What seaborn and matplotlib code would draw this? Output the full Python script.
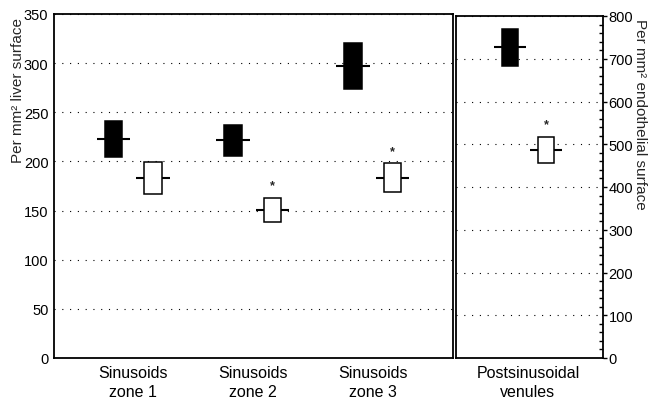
import pandas as pd
import seaborn as sns
import matplotlib.pyplot as plt
from matplotlib.ticker import MultipleLocator

# Sinusoid zones, per mm2 liver surface (left axis)
zones = ['Sinusoids\nzone 1', 'Sinusoids\nzone 2', 'Sinusoids\nzone 3']
zone_filled_low = [204, 206, 274]
zone_filled_mid = [223, 222, 297]
zone_filled_high = [241, 237, 321]
zone_open_low = [167, 138, 169]
zone_open_mid = [183, 151, 183]
zone_open_high = [199, 163, 198]
zone_star = [False, True, True]

# Postsinusoidal venules, per mm2 endothelial surface (right axis)
venules = ['Postsinusoidal\nvenules']
ven_filled_low = [682]
ven_filled_mid = [727]
ven_filled_high = [770]
ven_open_low = [455]
ven_open_mid = [487]
ven_open_high = [517]
ven_star = [True]


def long_form(cats, f_lo, f_mid, f_hi, o_lo, o_mid, o_hi):
    rows = []
    for i, cat in enumerate(cats):
        for grp, lo, mid, hi in [('filled', f_lo[i], f_mid[i], f_hi[i]),
                                 ('open', o_lo[i], o_mid[i], o_hi[i])]:
            # five points -> quartiles land on lo / hi, median on mid
            for v in (lo, lo, mid, hi, hi):
                rows.append({'site': cat, 'group': grp, 'value': v})
    return pd.DataFrame(rows)


df_zones = long_form(zones, zone_filled_low, zone_filled_mid, zone_filled_high,
                     zone_open_low, zone_open_mid, zone_open_high)
df_ven = long_form(venules, ven_filled_low, ven_filled_mid, ven_filled_high,
                   ven_open_low, ven_open_mid, ven_open_high)

sns.set_style('white')
plt.rcParams['font.family'] = ['Liberation Sans', 'DejaVu Sans']
plt.rcParams['font.size'] = 10.5

fig = plt.figure(figsize=(6.49, 4.02), dpi=100)
ax1 = fig.add_axes([54 / 649, 43 / 402, 399 / 649, 344 / 402])
ax2 = fig.add_axes([456 / 649, 43 / 402, 147 / 649, 342 / 402])


def draw_panel(ax, df, width, box_w, line_w):
    common = dict(data=df, x='site', y='value', hue='group', hue_order=['filled', 'open'],
                  whis=0, showcaps=False, showfliers=False, legend=False, width=width, ax=ax,
                  whiskerprops={'linewidth': 0})
    half = width / 2
    # mean bars that stick out either side of the box
    sns.boxplot(**common, gap=1 - line_w / half, palette=['white', 'white'], saturation=1,
                boxprops={'facecolor': 'none', 'linewidth': 0},
                medianprops={'color': 'black', 'linewidth': 1.5}, zorder=1)
    # the boxes themselves
    sns.boxplot(**common, gap=1 - box_w / half, palette=['black', 'white'], saturation=1,
                linecolor='black', linewidth=1.1,
                medianprops={'linewidth': 0}, zorder=3)


draw_panel(ax1, df_zones, 0.66, 0.146, 0.28)
draw_panel(ax2, df_ven, 0.60, 0.138, 0.26)

# significance stars above the open boxes
for ax, width, stars, tops in [(ax1, 0.66, zone_star, zone_open_high),
                               (ax2, 0.60, ven_star, ven_open_high)]:
    for i, star in enumerate(stars):
        if star:
            ax.annotate('*', (i + width / 4, tops[i]), xytext=(0, 9),
                        textcoords='offset points', ha='center', va='center',
                        fontsize=9, fontweight='bold')

ax1.set_xlim(-0.66, 2.67)
ax1.set_ylim(0, 350)
ax1.yaxis.set_major_locator(MultipleLocator(50))
ax1.yaxis.set_minor_locator(MultipleLocator(10))
# y labels are anchored along their own direction: start them near the top
ax1.set_ylabel('Per mm² liver surface', fontsize=11, ha='right', va='center')
ax1.yaxis.set_label_coords((18 - 54) / 399, 0.99)

ax2.set_xlim(-0.6, 0.625)
ax2.set_ylim(0, 800)
ax2.yaxis.tick_right()
ax2.yaxis.set_label_position('right')
ax2.yaxis.set_major_locator(MultipleLocator(100))
ax2.yaxis.set_minor_locator(MultipleLocator(20))
ax2.set_ylabel('Per mm² endothelial surface', fontsize=11, rotation=270,
               ha='left', va='center')
ax2.yaxis.set_label_coords((640 - 456) / 147, 0.995)

for ax in (ax1, ax2):
    ax.set_xlabel('')
    ax.set_axisbelow(True)
    ax.yaxis.grid(True, color='black', linestyle=(0, (1, 6)), linewidth=0.8)
    ax.xaxis.grid(False)
    for spine in ax.spines.values():
        spine.set_color('black')
        spine.set_linewidth(1.3)
    ax.tick_params(axis='x', length=0, pad=5, labelsize=11.5, colors='black')
    ax.tick_params(axis='y', which='major', direction='out', length=3, width=1,
                   labelsize=10.5, colors='black', pad=1)
    ax.tick_params(axis='y', which='minor', direction='in', length=3, width=1,
                   colors='black')
    for t in ax.get_xticklabels():
        t.set_linespacing(1.3)

ax1.tick_params(axis='y', which='both', right=False)
ax2.tick_params(axis='y', which='both', left=False)

fig.savefig('out.png', dpi=100)
